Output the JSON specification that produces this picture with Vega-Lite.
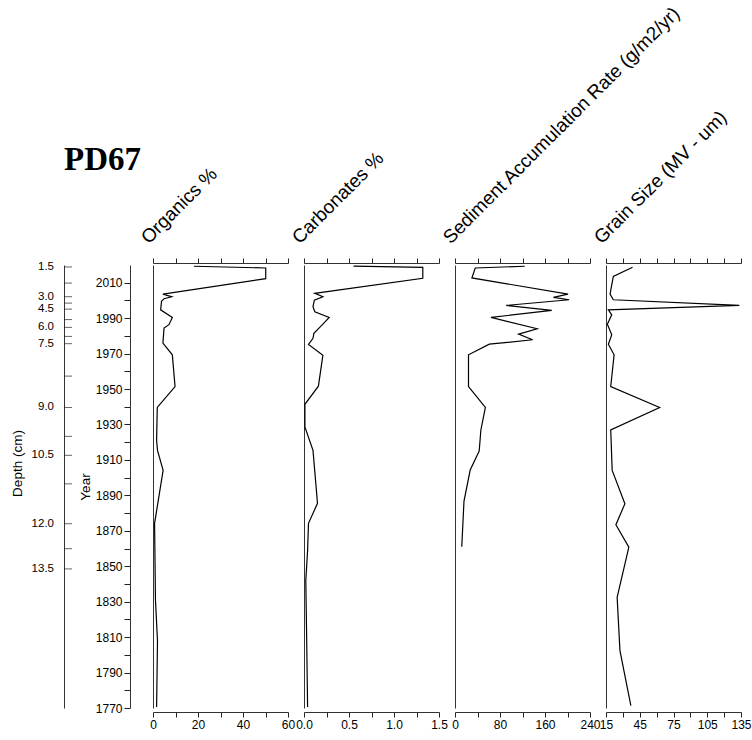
{
  "$schema": "https://vega.github.io/schema/vega-lite/v6.json",
  "padding": {"left": 10, "top": 2, "right": 5, "bottom": 5},
  "background": "white",
  "config": {
    "view": {"stroke": null},
    "font": "Liberation Sans",
    "axis": {"grid": false, "domainColor": "#333", "tickColor": "#222", "labelColor": "black", "titleColor": "black", "labelFont": "Liberation Sans", "titleFont": "Liberation Sans", "titleFontWeight": "normal", "labelFontSize": 12, "labelFlush": false, "labelOverlap": false, "domainWidth": 1, "tickWidth": 1}
  },
  "bounds": "flush",
  "spacing": 16,
  "datasets": {
    "depthTicks": [
      {"depth": 1.5, "year": 2018.9, "label": "1.5"}, {"depth": 2.25, "year": 2009.8, "label": ""},
      {"depth": 3.0, "year": 2002.1, "label": "3.0"}, {"depth": 3.75, "year": 1998.5, "label": ""},
      {"depth": 4.5, "year": 1995.1, "label": "4.5"}, {"depth": 5.25, "year": 1989.2, "label": ""},
      {"depth": 6.0, "year": 1984.8, "label": "6.0"}, {"depth": 6.75, "year": 1979.7, "label": ""},
      {"depth": 7.5, "year": 1975.6, "label": "7.5"}, {"depth": 8.25, "year": 1957.3, "label": ""},
      {"depth": 9.0, "year": 1939.6, "label": "9.0"}, {"depth": 9.75, "year": 1923.3, "label": ""},
      {"depth": 10.5, "year": 1912.6, "label": "10.5"}, {"depth": 11.25, "year": 1896.5, "label": ""},
      {"depth": 12.0, "year": 1874.0, "label": "12.0"}, {"depth": 12.75, "year": 1859.9, "label": ""},
      {"depth": 13.5, "year": 1848.5, "label": "13.5"}
    ],
    "organics": [
      {"year": 2019.3, "value": 18.2}, {"year": 2018.3, "value": 50.1}, {"year": 2012.3, "value": 50.1},
      {"year": 2003.6, "value": 4.4}, {"year": 2002.1, "value": 8.3}, {"year": 2001.0, "value": 4.9},
      {"year": 1999.5, "value": 3.8}, {"year": 1994.7, "value": 3.4}, {"year": 1990.4, "value": 8.6},
      {"year": 1986.3, "value": 7.1}, {"year": 1984.4, "value": 4.9}, {"year": 1975.9, "value": 4.4},
      {"year": 1969.3, "value": 8.6}, {"year": 1951.4, "value": 9.8}, {"year": 1939.6, "value": 1.9},
      {"year": 1921.1, "value": 1.6}, {"year": 1915.4, "value": 2.0}, {"year": 1904.1, "value": 4.5},
      {"year": 1874.2, "value": 0.7}, {"year": 1830.6, "value": 1.1}, {"year": 1808.0, "value": 2.0},
      {"year": 1770.5, "value": 1.6}
    ],
    "carbonates": [
      {"year": 2019.4, "value": 0.55}, {"year": 2018.7, "value": 1.32}, {"year": 2012.5, "value": 1.32},
      {"year": 2004.0, "value": 0.12}, {"year": 2002.1, "value": 0.21}, {"year": 2000.2, "value": 0.115},
      {"year": 1996.4, "value": 0.1}, {"year": 1993.6, "value": 0.12}, {"year": 1990.4, "value": 0.28},
      {"year": 1986.6, "value": 0.21}, {"year": 1981.4, "value": 0.11}, {"year": 1978.6, "value": 0.1},
      {"year": 1975.2, "value": 0.05}, {"year": 1969.1, "value": 0.21}, {"year": 1951.6, "value": 0.16},
      {"year": 1941.4, "value": 0.01}, {"year": 1928.6, "value": 0.01}, {"year": 1915.4, "value": 0.1},
      {"year": 1885.5, "value": 0.15}, {"year": 1874.2, "value": 0.05}, {"year": 1859.0, "value": 0.04},
      {"year": 1842.0, "value": 0.02}, {"year": 1808.0, "value": 0.03}, {"year": 1770.5, "value": 0.04}
    ],
    "sar": [
      {"year": 2019.3, "value": 124}, {"year": 2018.3, "value": 36}, {"year": 2012.7, "value": 30},
      {"year": 2003.6, "value": 201}, {"year": 2001.7, "value": 175}, {"year": 2000.4, "value": 203},
      {"year": 1997.2, "value": 91}, {"year": 1994.4, "value": 172}, {"year": 1990.4, "value": 64},
      {"year": 1984.0, "value": 146}, {"year": 1981.0, "value": 113}, {"year": 1977.8, "value": 138},
      {"year": 1975.3, "value": 61}, {"year": 1969.3, "value": 24}, {"year": 1951.4, "value": 24},
      {"year": 1939.6, "value": 54}, {"year": 1926.9, "value": 46}, {"year": 1915.0, "value": 43},
      {"year": 1904.3, "value": 27}, {"year": 1886.8, "value": 16}, {"year": 1861.0, "value": 12}
    ],
    "grain": [
      {"year": 2018.7, "value": 38.6}, {"year": 2013.6, "value": 21.5}, {"year": 2003.6, "value": 18.6},
      {"year": 2000.4, "value": 21.5}, {"year": 1997.2, "value": 133.5}, {"year": 1994.7, "value": 17.1},
      {"year": 1991.9, "value": 20.1}, {"year": 1986.6, "value": 16.2}, {"year": 1980.6, "value": 20.1},
      {"year": 1975.3, "value": 17.1}, {"year": 1969.3, "value": 22.2}, {"year": 1951.4, "value": 19.2},
      {"year": 1939.6, "value": 62.7}, {"year": 1926.9, "value": 19.2}, {"year": 1904.1, "value": 20.5},
      {"year": 1885.3, "value": 31.8}, {"year": 1873.4, "value": 23.8}, {"year": 1860.8, "value": 35.3},
      {"year": 1832.5, "value": 24.9}, {"year": 1802.4, "value": 27.4}, {"year": 1771.3, "value": 37.1}
    ]
  },
  "hconcat": [
    {
      "width": 50, "height": 443,
      "title": {"text": "PD67", "font": "Liberation Serif", "fontSize": 33, "fontWeight": "bold", "anchor": "start", "frame": "group", "offset": 58, "color": "black", "baseline": "alphabetic"},
      "data": {"name": "depthTicks"},
      "layer": [
        {
          "mark": {"type": "tick", "size": 8, "thickness": 1, "color": "#222", "xOffset": -21},
          "encoding": {
            "y": {"field": "year", "type": "quantitative", "scale": {"domain": [1770, 2020], "nice": false, "zero": false},
              "axis": {"orient": "left", "labels": false, "ticks": false, "domain": true, "title": "Depth (cm)", "titlePadding": 40, "titleFontSize": 13.5, "titleY": 198}}
          }
        },
        {
          "mark": {"type": "text", "align": "right", "baseline": "middle", "dx": -35, "fontSize": 11.5, "color": "black"},
          "encoding": {
            "y": {"field": "year", "type": "quantitative"},
            "text": {"field": "label"}
          }
        }
      ]
    },
    {
      "width": 7, "height": 443,
      "data": {"name": "depthTicks"},
      "mark": {"type": "tick", "opacity": 0},
      "encoding": {
        "y": {"field": "year", "type": "quantitative", "scale": {"domain": [1770, 2020], "nice": false, "zero": false},
          "axis": {"orient": "left", "values": [1770,1780,1790,1800,1810,1820,1830,1840,1850,1860,1870,1880,1890,1900,1910,1920,1930,1940,1950,1960,1970,1980,1990,2000,2010],
            "labelExpr": "datum.value % 20 == 10 ? datum.label : ''", "format": "d", "tickSize": 6, "labelPadding": 2, "title": "Year", "titleFontSize": 13.5, "titlePadding": 3}}
      }
    },
    {
      "width": 135, "height": 443,
      "data": {"name": "organics"},
      "layer": [
        {
          "mark": {"type": "line", "color": "black", "strokeWidth": 1.2},
          "encoding": {
            "x": {"field": "value", "type": "quantitative", "scale": {"domain": [0, 60], "nice": false, "zero": false},
              "axis": {"orient": "bottom", "offset": 4, "values": [0,10,20,30,40,50,60], "labelExpr": "datum.value % 20 == 0 ? datum.label : ''", "tickSize": 5, "labelPadding": 2, "title": null}},
            "y": {"field": "year", "type": "quantitative", "scale": {"domain": [1770, 2020], "nice": false, "zero": false}, "axis": {"orient": "left", "labels": false, "ticks": false, "title": null}},
            "order": {"field": "year"}
          }
        },
        {
          "mark": {"type": "line", "opacity": 0},
          "encoding": {
            "x": {"field": "value", "type": "quantitative",
              "axis": {"orient": "top", "offset": 2, "values": [0,10,20,30,40,50,60], "labels": false, "tickSize": 5, "title": "Organics %", "titleAngle": -45, "titleAlign": "left", "titleBaseline": "bottom", "titleX": -2, "titleY": -16, "titleFontSize": 19}},
            "y": {"field": "year", "type": "quantitative", "axis": {"orient": "left", "labels": false, "ticks": false, "title": null}},
            "order": {"field": "year"}
          }
        }
      ],
      "resolve": {"axis": {"x": "independent"}}
    },
    {
      "width": 135, "height": 443,
      "data": {"name": "carbonates"},
      "layer": [
        {
          "mark": {"type": "line", "color": "black", "strokeWidth": 1.2},
          "encoding": {
            "x": {"field": "value", "type": "quantitative", "scale": {"domain": [0, 1.5], "nice": false, "zero": false},
              "axis": {"orient": "bottom", "offset": 4, "values": [0,0.25,0.5,0.75,1,1.25,1.5], "labelExpr": "(datum.value * 2) % 1 == 0 ? format(datum.value, '.1f') : ''", "tickSize": 5, "labelPadding": 2, "title": null}},
            "y": {"field": "year", "type": "quantitative", "scale": {"domain": [1770, 2020], "nice": false, "zero": false}, "axis": {"orient": "left", "labels": false, "ticks": false, "title": null}},
            "order": {"field": "year"}
          }
        },
        {
          "mark": {"type": "line", "opacity": 0},
          "encoding": {
            "x": {"field": "value", "type": "quantitative",
              "axis": {"orient": "top", "offset": 2, "values": [0,0.25,0.5,0.75,1,1.25,1.5], "labels": false, "tickSize": 5, "title": "Carbonates %", "titleAngle": -45, "titleAlign": "left", "titleBaseline": "bottom", "titleX": -2, "titleY": -16, "titleFontSize": 19}},
            "y": {"field": "year", "type": "quantitative", "axis": {"orient": "left", "labels": false, "ticks": false, "title": null}},
            "order": {"field": "year"}
          }
        }
      ],
      "resolve": {"axis": {"x": "independent"}}
    },
    {
      "width": 135, "height": 443,
      "data": {"name": "sar"},
      "layer": [
        {
          "mark": {"type": "line", "color": "black", "strokeWidth": 1.2},
          "encoding": {
            "x": {"field": "value", "type": "quantitative", "scale": {"domain": [0, 240], "nice": false, "zero": false},
              "axis": {"orient": "bottom", "offset": 4, "values": [0,40,80,120,160,200,240], "labelExpr": "datum.value % 80 == 0 ? datum.label : ''", "tickSize": 5, "labelPadding": 2, "title": null}},
            "y": {"field": "year", "type": "quantitative", "scale": {"domain": [1770, 2020], "nice": false, "zero": false}, "axis": {"orient": "left", "labels": false, "ticks": false, "title": null}},
            "order": {"field": "year"}
          }
        },
        {
          "mark": {"type": "line", "opacity": 0},
          "encoding": {
            "x": {"field": "value", "type": "quantitative",
              "axis": {"orient": "top", "offset": 2, "values": [0,40,80,120,160,200,240], "labels": false, "tickSize": 5, "title": "Sediment Accumulation Rate (g/m2/yr)", "titleAngle": -45, "titleAlign": "left", "titleBaseline": "bottom", "titleX": -2, "titleY": -16, "titleFontSize": 19}},
            "y": {"field": "year", "type": "quantitative", "axis": {"orient": "left", "labels": false, "ticks": false, "title": null}},
            "order": {"field": "year"}
          }
        }
      ],
      "resolve": {"axis": {"x": "independent"}}
    },
    {
      "width": 135, "height": 443,
      "data": {"name": "grain"},
      "layer": [
        {
          "mark": {"type": "line", "color": "black", "strokeWidth": 1.2},
          "encoding": {
            "x": {"field": "value", "type": "quantitative", "scale": {"domain": [15, 135], "nice": false, "zero": false},
              "axis": {"orient": "bottom", "offset": 4, "values": [15,30,45,60,75,90,105,120,135], "labelExpr": "(datum.value - 15) % 30 == 0 ? datum.label : ''", "tickSize": 5, "labelPadding": 2, "title": null}},
            "y": {"field": "year", "type": "quantitative", "scale": {"domain": [1770, 2020], "nice": false, "zero": false}, "axis": {"orient": "left", "labels": false, "ticks": false, "title": null}},
            "order": {"field": "year"}
          }
        },
        {
          "mark": {"type": "line", "opacity": 0},
          "encoding": {
            "x": {"field": "value", "type": "quantitative",
              "axis": {"orient": "top", "offset": 2, "values": [15,30,45,60,75,90,105,120,135], "labels": false, "tickSize": 5, "title": "Grain Size (MV - um)", "titleAngle": -45, "titleAlign": "left", "titleBaseline": "bottom", "titleX": -2, "titleY": -16, "titleFontSize": 19}},
            "y": {"field": "year", "type": "quantitative", "axis": {"orient": "left", "labels": false, "ticks": false, "title": null}},
            "order": {"field": "year"}
          }
        }
      ],
      "resolve": {"axis": {"x": "independent"}}
    }
  ]
}
